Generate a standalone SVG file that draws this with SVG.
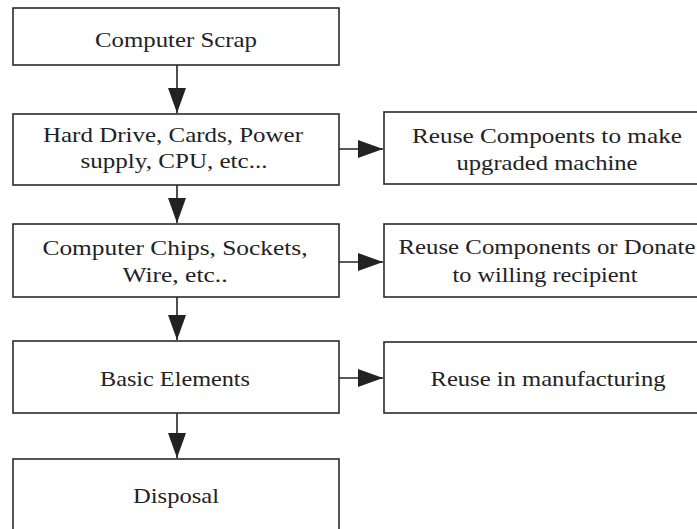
<svg xmlns="http://www.w3.org/2000/svg" width="697" height="529" viewBox="0 0 697 529">
<defs>
<style>
.box{fill:#fff;stroke:#2a2a2a;stroke-width:1.6}
.t{font-family:"Liberation Serif","Times New Roman",serif;font-size:22px;fill:#222;text-anchor:middle}
.c{stroke:#222;stroke-width:1.6;fill:none}
</style>
<marker id="ah" markerUnits="userSpaceOnUse" markerWidth="26" markerHeight="20" refX="25" refY="9" orient="auto">
<path d="M0,0 L25,9 L0,18 Z" fill="#222"/>
</marker>
</defs>
<rect width="697" height="529" fill="#fff"/>
<g id="connectors">
<path class="c" d="M177,65 V113" marker-end="url(#ah)"/>
<path class="c" d="M177,185 V223" marker-end="url(#ah)"/>
<path class="c" d="M177,297 V340" marker-end="url(#ah)"/>
<path class="c" d="M177,413 V458" marker-end="url(#ah)"/>
<path class="c" d="M339,149 H383" marker-end="url(#ah)"/>
<path class="c" d="M339,262 H383" marker-end="url(#ah)"/>
<path class="c" d="M339,378 H383" marker-end="url(#ah)"/>
</g>
<g id="n1">
<rect class="box" x="13" y="8" width="326" height="57"/>
<text class="t" x="176" y="47" textLength="162" lengthAdjust="spacingAndGlyphs">Computer Scrap</text>
</g>
<g id="n2">
<rect class="box" x="13" y="114" width="326" height="71"/>
<text class="t" x="173" y="142" textLength="260" lengthAdjust="spacingAndGlyphs">Hard Drive, Cards, Power</text>
<text class="t" x="174" y="168" textLength="187" lengthAdjust="spacingAndGlyphs">supply, CPU, etc...</text>
</g>
<g id="n3">
<rect class="box" x="13" y="224" width="326" height="73"/>
<text class="t" x="175" y="255" textLength="265" lengthAdjust="spacingAndGlyphs">Computer Chips, Sockets,</text>
<text class="t" x="175" y="282" textLength="105" lengthAdjust="spacingAndGlyphs">Wire, etc..</text>
</g>
<g id="n4">
<rect class="box" x="13" y="341" width="326" height="72"/>
<text class="t" x="175" y="386" textLength="150" lengthAdjust="spacingAndGlyphs">Basic Elements</text>
</g>
<g id="n5">
<rect class="box" x="13" y="459" width="326" height="90"/>
<text class="t" x="176" y="503" textLength="86" lengthAdjust="spacingAndGlyphs">Disposal</text>
</g>
<g id="r1">
<rect class="box" x="384" y="112" width="330" height="72"/>
<text class="t" x="547" y="143" textLength="270" lengthAdjust="spacingAndGlyphs">Reuse Compoents to make</text>
<text class="t" x="547" y="170" textLength="181" lengthAdjust="spacingAndGlyphs">upgraded machine</text>
</g>
<g id="r2">
<rect class="box" x="384" y="224" width="330" height="73"/>
<text class="t" x="547" y="254" textLength="297" lengthAdjust="spacingAndGlyphs">Reuse Components or Donate</text>
<text class="t" x="545" y="282" textLength="185" lengthAdjust="spacingAndGlyphs">to willing recipient</text>
</g>
<g id="r3">
<rect class="box" x="384" y="342" width="330" height="71"/>
<text class="t" x="548" y="386" textLength="235" lengthAdjust="spacingAndGlyphs">Reuse in manufacturing</text>
</g>
</svg>
